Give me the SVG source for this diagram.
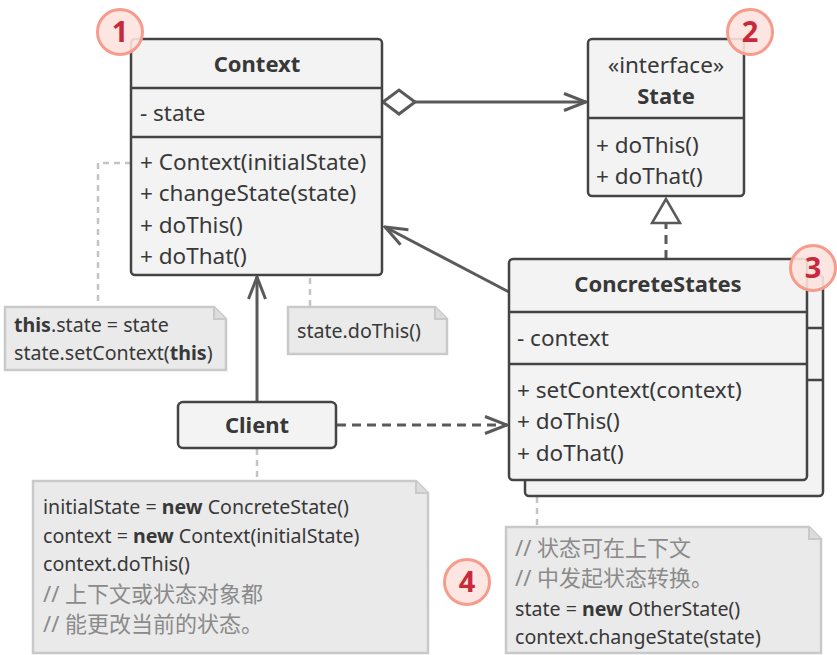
<svg xmlns="http://www.w3.org/2000/svg" width="837" height="655" viewBox="0 0 837 655">
<defs>
<style>
.box{fill:#f3f3f3;stroke:#444;stroke-width:2.5}
.div{stroke:#444;stroke-width:2.5}
.t{font-family:"Noto Sans","Open Sans",sans-serif;font-size:22.5px;fill:#383838}
.n{font-family:"Noto Sans","Open Sans",sans-serif;font-size:19.6px;fill:#383838}
.h{font-family:"Noto Sans","Open Sans",sans-serif;font-size:22px;font-weight:bold;fill:#383838}
.b{font-weight:bold}
.c{fill:#8a8a8a;font-size:22px}
.cj{font-family:"Noto Sans","Noto Sans CJK SC",sans-serif}
.note{fill:#eaeaea;stroke:#c9c9c9;stroke-width:2.5}
.fold{fill:#dcdcdc;stroke:#c9c9c9;stroke-width:2}
.ndash{fill:none;stroke:#c4c4c4;stroke-width:2.5;stroke-dasharray:6,5}
.line{fill:none;stroke:#5a5a5a;stroke-width:3}
.dash{fill:none;stroke:#5a5a5a;stroke-width:3;stroke-dasharray:9,6}
.badge{fill:#fde3de;fill-opacity:0.9;stroke:#f59c8c;stroke-width:3}
.num{font-family:"Noto Sans","Open Sans",sans-serif;font-size:29px;font-weight:bold;fill:#c82a3b}
</style>
<marker id="open" viewBox="0 0 26 20" refX="24" refY="10" markerWidth="26" markerHeight="20" markerUnits="userSpaceOnUse" orient="auto">
<path d="M2,1.5 L24,10 L2,18.5" fill="none" stroke="#5a5a5a" stroke-width="3"/>
</marker>
</defs>

<g id="connectors">
<line class="line" x1="415" y1="102" x2="586" y2="102" marker-end="url(#open)"/>
<polygon points="383,102 399,90 415,102 399,114" fill="#fff" stroke="#5a5a5a" stroke-width="3"/>
<line class="dash" x1="666" y1="259" x2="666" y2="224"/>
<polygon points="666,199 652,223 680,223" fill="#fff" stroke="#5a5a5a" stroke-width="2.5"/>
<line class="line" x1="509" y1="292" x2="385" y2="227" marker-end="url(#open)"/>
<line class="line" x1="257" y1="402" x2="257" y2="277" marker-end="url(#open)"/>
<line class="dash" x1="337" y1="425" x2="507" y2="425" marker-end="url(#open)"/>
<polyline class="ndash" points="131,163 98,163 98,307"/>
<polyline class="ndash" points="266,223 310,223 310,307"/>
<circle cx="261" cy="223" r="4" fill="#f3f3f3" stroke="#b8b8b8" stroke-width="2"/>
<line class="ndash" x1="257" y1="449" x2="257" y2="481"/>
<line class="ndash" x1="537" y1="497" x2="537" y2="527"/>
</g>

<g id="context">
<rect class="box" x="131" y="39" width="251" height="236" rx="4"/>
<line class="div" x1="131" y1="88" x2="382" y2="88"/>
<line class="div" x1="131" y1="137" x2="382" y2="137"/>
<text class="h" x="257" y="72" text-anchor="middle">Context</text>
<text class="t" x="140" y="121">- state</text>
<text class="t" x="140" y="170">+ Context(initialState)</text>
<text class="t" x="140" y="201">+ changeState(state)</text>
<text class="t" x="140" y="233">+ doThis()</text>
<text class="t" x="140" y="264">+ doThat()</text>
</g>

<g id="state">
<rect class="box" x="588" y="39" width="156" height="157" rx="4"/>
<line class="div" x1="588" y1="118" x2="744" y2="118"/>
<text class="t" x="666" y="73" text-anchor="middle">«interface»</text>
<text class="h" x="666" y="104" text-anchor="middle">State</text>
<text class="t" x="596" y="153">+ doThis()</text>
<text class="t" x="596" y="184">+ doThat()</text>
</g>

<g id="concretestates">
<rect class="box" x="525" y="275" width="298" height="221" rx="4"/>
<line class="div" x1="525" y1="328" x2="823" y2="328"/>
<line class="div" x1="525" y1="380" x2="823" y2="380"/>
<rect class="box" x="509" y="259" width="298" height="221" rx="4"/>
<line class="div" x1="509" y1="312" x2="807" y2="312"/>
<line class="div" x1="509" y1="364" x2="807" y2="364"/>
<text class="h" x="658" y="292" text-anchor="middle">ConcreteStates</text>
<text class="t" x="517" y="346">- context</text>
<text class="t" x="517" y="398">+ setContext(context)</text>
<text class="t" x="517" y="429">+ doThis()</text>
<text class="t" x="517" y="461">+ doThat()</text>
</g>

<g id="client">
<rect class="box" x="178" y="402" width="158" height="46" rx="5"/>
<text class="h" x="257" y="433" text-anchor="middle">Client</text>
</g>

<g id="note1">
<path class="note" d="M5,307 H214 L226,319 V370 H5 Z"/>
<path class="fold" d="M214,307 V319 H226"/>
<text class="n" x="14" y="332"><tspan class="b">this</tspan>.state = state</text>
<text class="n" x="14" y="360">state.setContext(<tspan class="b">this</tspan>)</text>
</g>

<g id="note2">
<path class="note" d="M288,307 H435 L447,319 V354 H288 Z"/>
<path class="fold" d="M435,307 V319 H447"/>
<text class="n" x="297" y="338">state.doThis()</text>
</g>

<g id="note3">
<path class="note" d="M33,481 H416 L428,493 V653 H33 Z"/>
<path class="fold" d="M416,481 V493 H428"/>
<text class="n" x="43" y="514">initialState = <tspan class="b">new</tspan> ConcreteState()</text>
<text class="n" x="43" y="543">context = <tspan class="b">new</tspan> Context(initialState)</text>
<text class="n" x="43" y="571">context.doThis()</text>
<text class="n c cj" x="43" y="602">// 上下文或状态对象都</text>
<text class="n c cj" x="43" y="632">// 能更改当前的状态。</text>
</g>

<g id="note4">
<path class="note" d="M506,527 H809 L821,539 V653 H506 Z"/>
<path class="fold" d="M809,527 V539 H821"/>
<text class="n c cj" x="515" y="556">// 状态可在上下文</text>
<text class="n c cj" x="515" y="586">// 中发起状态转换。</text>
<text class="n" x="515" y="616">state = <tspan class="b">new</tspan> OtherState()</text>
<text class="n" x="515" y="644">context.changeState(state)</text>
</g>

<g id="badge1">
<circle class="badge" cx="120" cy="32" r="22.5"/>
<text class="num" x="120" y="42" text-anchor="middle">1</text>
</g>
<g id="badge2">
<circle class="badge" cx="750" cy="32" r="22.5"/>
<text class="num" x="750" y="42" text-anchor="middle">2</text>
</g>
<g id="badge3">
<circle class="badge" cx="813" cy="268" r="22.5"/>
<text class="num" x="813" y="278" text-anchor="middle">3</text>
</g>
<g id="badge4">
<circle class="badge" cx="467" cy="582" r="22.5"/>
<text class="num" x="467" y="592" text-anchor="middle">4</text>
</g>
</svg>
